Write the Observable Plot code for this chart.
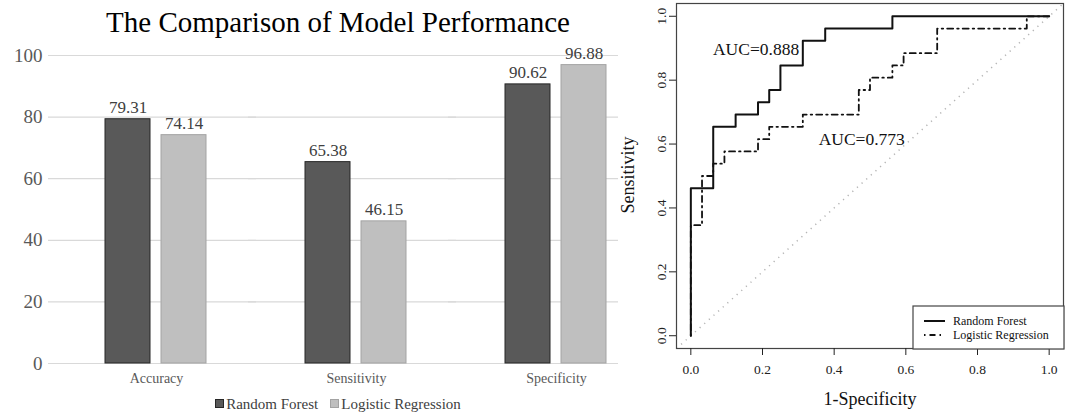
<!DOCTYPE html>
<html><head><meta charset="utf-8">
<script src="https://cdn.jsdelivr.net/npm/d3@7"></script>
<script src="https://cdn.jsdelivr.net/npm/@observablehq/plot@0.6"></script>
<style>
body{margin:0;background:#fff;}
#wrap{position:relative;width:1069px;height:412px;overflow:hidden;background:#fff;font-family:"Liberation Serif","Times New Roman",serif;}
#wrap svg text{font-family:"Liberation Serif","Times New Roman",serif;}
#bars{position:absolute;left:0;top:0;}
#title{position:absolute;left:0;top:6px;width:676px;text-align:center;font-size:29px;line-height:32px;color:#000;}
#barLegend{position:absolute;left:0;top:396px;width:676px;text-align:center;font-size:15px;line-height:17px;color:#404040;white-space:nowrap;}
#barLegend .sw{display:inline-block;width:7px;height:7px;margin-right:2px;vertical-align:1px;}
#barLegend .item{margin:0 6px;}
#roc{position:absolute;left:618px;top:0;width:451px;height:412px;background:#fff;}
#rocLegend{position:absolute;left:912px;top:305px;}
#xTitle{position:absolute;left:676px;width:388px;top:389px;text-align:center;font-size:18px;line-height:20px;color:#111;}
#yTitle{position:absolute;left:628px;top:175px;font-size:18px;line-height:20px;color:#111;transform:translate(-50%,-50%) rotate(-90deg);white-space:nowrap;}
</style>
</head><body>
<div id="wrap">
 <div id="bars"></div>
 <div id="title">The Comparison of Model Performance</div>
 <div id="barLegend"></div>
 <div id="roc"></div>
 <div id="rocLegend"></div>
 <div id="xTitle">1-Specificity</div>
 <div id="yTitle">Sensitivity</div>
</div>
<script>
// ---- bar chart data ----
const metrics = ["Accuracy", "Sensitivity", "Specificity"];
const models = ["Random Forest", "Logistic Regression"];
const rfScores = [79.31, 65.38, 90.62];
const lrScores = [74.14, 46.15, 96.88];
const barTicks = [0, 20, 40, 60, 80, 100];

// ---- ROC curve data (1-specificity, sensitivity) ----
const rfFpr = [0, 0, 0.0625, 0.0625, 0.125, 0.125, 0.1875, 0.1875, 0.21875, 0.21875, 0.25, 0.25, 0.3125, 0.3125, 0.375, 0.375, 0.5625, 0.5625, 1];
const rfTpr = [0, 0.4615, 0.4615, 0.6538, 0.6538, 0.6923, 0.6923, 0.7308, 0.7308, 0.7692, 0.7692, 0.8462, 0.8462, 0.9231, 0.9231, 0.9615, 0.9615, 1, 1];
const lrFpr = [0, 0, 0.03125, 0.03125, 0.0625, 0.0625, 0.09375, 0.09375, 0.1875, 0.1875, 0.21875, 0.21875, 0.3125, 0.3125, 0.46875, 0.46875, 0.5, 0.5, 0.5625, 0.5625, 0.59375, 0.59375, 0.6875, 0.6875, 0.9375, 0.9375, 1];
const lrTpr = [0, 0.3462, 0.3462, 0.5, 0.5, 0.5385, 0.5385, 0.5769, 0.5769, 0.6154, 0.6154, 0.6538, 0.6538, 0.6923, 0.6923, 0.7692, 0.7692, 0.8077, 0.8077, 0.8462, 0.8462, 0.8846, 0.8846, 0.9615, 0.9615, 1, 1];
const aucText = ["AUC=0.888", "AUC=0.773"];
const aucX = [0.182, 0.477];
const aucY = [0.896, 0.616];
const rocTicks = [0, 0.2, 0.4, 0.6, 0.8, 1.0];

// ---- styles ----
const serif = "Liberation Serif";
const barFill = {"Random Forest": "#595959", "Logistic Regression": "#bfbfbf"};
const barStroke = {"Random Forest": "#262626", "Logistic Regression": "#a3a3a3"};

const rows = metrics.flatMap((m, i) => [
  {metric: m, model: models[0], value: rfScores[i]},
  {metric: m, model: models[1], value: lrScores[i]}
]);

const bar = Plot.plot({
  width: 660, height: 412,
  marginLeft: 56, marginRight: 4, marginTop: 55, marginBottom: 49,
  style: {fontFamily: serif, background: "transparent", overflow: "visible"},
  fx: {domain: metrics, padding: 0, label: null, axis: null},
  x: {domain: models, paddingInner: 0.194, paddingOuter: 0.86, axis: null},
  y: {domain: [0, 100], label: null, axis: null},
  marks: [
    Plot.gridY(barTicks, {stroke: "#d9d9d9", strokeOpacity: 1, strokeWidth: 1.2, insetLeft: -8}),
    Plot.axisY(barTicks, {tickSize: 0, tickPadding: 14, fontSize: 19, fontFamily: serif, fill: "#595959", label: null}),
    Plot.axisFx({anchor: "bottom", tickSize: 0, tickPadding: 10, fontSize: 14, fontFamily: serif, fill: "#595959", label: null}),
    ...models.map(m => Plot.barY(rows.filter(r => r.model === m), {
      fx: "metric", x: "model", y: "value", fill: barFill[m], stroke: barStroke[m], strokeWidth: 1
    })),
    Plot.text(rows, {fx: "metric", x: "model", y: "value", text: d => d.value.toFixed(2),
      lineAnchor: "bottom", dy: -6, fontSize: 17, fontFamily: serif, fill: "#404040"})
  ]
});
document.getElementById("bars").appendChild(bar);

document.getElementById("barLegend").innerHTML = models.map(m =>
  `<span class="item"><span class="sw" style="background:${barFill[m]};border:1px solid ${barStroke[m]}"></span>${m}</span>`
).join("");

// ---- ROC chart ----
const rocDom = [-0.04, 1.04];
const rfPts = rfFpr.map((f, i) => ({fpr: f, tpr: rfTpr[i]}));
const lrPts = lrFpr.map((f, i) => ({fpr: f, tpr: lrTpr[i]}));
const lrDash = "1.5,4,6,4";

const roc = Plot.plot({
  width: 451, height: 412,
  marginLeft: 58, marginRight: 6, marginTop: 3, marginBottom: 64,
  style: {fontFamily: serif, background: "#fff", color: "#222"},
  x: {domain: rocDom, label: null},
  y: {domain: rocDom, label: null},
  marks: [
    Plot.link([rocDom], {x1: d => d[0], y1: d => d[0], x2: d => d[1], y2: d => d[1],
      stroke: "#b5b5b5", strokeWidth: 1.5, strokeDasharray: "1.2,5"}),
    Plot.line(lrPts, {x: "fpr", y: "tpr", stroke: "#111", strokeWidth: 1.8, strokeDasharray: lrDash}),
    Plot.line(rfPts, {x: "fpr", y: "tpr", stroke: "#111", strokeWidth: 2}),
    Plot.text(aucText, {x: (d, i) => aucX[i], y: (d, i) => aucY[i], text: d => d, fontSize: 17.5, fontFamily: serif, fill: "#111"}),
    Plot.frame({stroke: "#444", strokeWidth: 1.2}),
    Plot.axisX(rocTicks, {tickSize: 7, tickPadding: 9, tickFormat: ".1f", fontSize: 13.5, fontFamily: serif, fill: "#222", label: null}),
    Plot.axisY(rocTicks, {tickSize: 7, tickPadding: 4, tickRotate: -90, tickFormat: ".1f", fontSize: 13.5, fontFamily: serif, fill: "#222", label: null})
  ]
});
document.getElementById("roc").appendChild(roc);

const legendSvg = `<svg width="153" height="45" xmlns="http://www.w3.org/2000/svg">
  <rect x="1" y="1" width="151" height="43" fill="#fff" stroke="#444" stroke-width="1.2"/>
  <line x1="12" x2="33" y1="16" y2="16" stroke="#111" stroke-width="2"/>
  <line x1="12" x2="33" y1="30" y2="30" stroke="#111" stroke-width="1.8" stroke-dasharray="${lrDash}"/>
  <text x="41" y="20" font-size="12" fill="#111">${models[0]}</text>
  <text x="41" y="34" font-size="12" fill="#111">${models[1]}</text>
</svg>`;
document.getElementById("rocLegend").innerHTML = legendSvg;
</script>
</body></html>
